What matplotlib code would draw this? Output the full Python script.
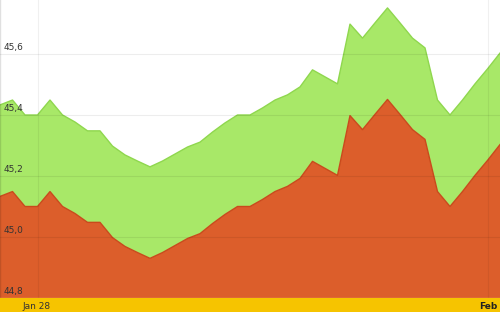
import numpy as np
import matplotlib
matplotlib.use("Agg")
import matplotlib.pyplot as plt

# upper (green) and lower (orange) band edges, one point per step
high = [45.433, 45.449, 45.400, 45.400, 45.449, 45.400, 45.377, 45.348, 45.348, 45.298,
        45.269, 45.249, 45.230, 45.249, 45.272, 45.295, 45.311, 45.344, 45.374, 45.400,
        45.400, 45.423, 45.449, 45.466, 45.492, 45.548, 45.525, 45.502, 45.698, 45.652,
        45.702, 45.751, 45.702, 45.652, 45.620, 45.449, 45.400, 45.449, 45.502, 45.551,
        45.603]
low = [45.133, 45.149, 45.100, 45.100, 45.149, 45.100, 45.077, 45.048, 45.048, 44.998,
       44.969, 44.949, 44.930, 44.949, 44.972, 44.995, 45.011, 45.044, 45.074, 45.100,
       45.100, 45.123, 45.149, 45.166, 45.192, 45.248, 45.225, 45.202, 45.398, 45.352,
       45.402, 45.451, 45.402, 45.352, 45.320, 45.149, 45.100, 45.149, 45.202, 45.251,
       45.303]
yticks = [44.8, 45.0, 45.2, 45.4, 45.6]
ytick_labels = ["44,8", "45,0", "45,2", "45,4", "45,6"]
xtick_pos = [3, 39]
xtick_labels = ["Jan 28", "Feb"]

x = np.arange(len(high))
ymin, ymax = 44.8, 45.777

fig = plt.figure(figsize=(5, 3.12), dpi=100, facecolor="#f6c400")
ax = fig.add_axes([0, 14 / 312, 1, 298 / 312])
ax.set_facecolor("white")

ax.fill_between(x, ymin, low, color="#dc5e2b", lw=0, zorder=1)
ax.fill_between(x, low, high, color="#a8e868", lw=0, zorder=1)
ax.plot(x, high, color="#8fd74e", lw=1, zorder=2)
ax.plot(x, low, color="#c94a1c", lw=1, zorder=2)

# faint grid drawn over the areas
for v in yticks[1:]:
    ax.axhline(v, color="black", alpha=0.07, lw=0.8, zorder=3)
for p in xtick_pos:
    ax.axvline(p, color="black", alpha=0.06, lw=0.8, zorder=3)
ax.axvline(0, color="black", alpha=0.12, lw=1, zorder=3)

for v, lab in zip(yticks, ytick_labels):
    ax.text(0.25, v + 0.008, lab, fontsize=6.5, color="#333333",
            ha="left", va="bottom", zorder=4)

ax.set_xlim(0, len(high) - 1)
ax.set_ylim(ymin, ymax)
ax.set_xticks([])
ax.set_yticks([])
for s in ax.spines.values():
    s.set_visible(False)
ax.axhline(ymin, color="#e8a060", lw=1, zorder=4)

fig.text(37 / 500, 5.5 / 312, xtick_labels[0], fontsize=6.5, color="#333333",
         ha="center", va="center")
fig.text(497 / 500, 5.5 / 312, xtick_labels[1], fontsize=6.5, color="#222222",
         ha="right", va="center", fontweight="bold")

fig.savefig("out.png", dpi=100, facecolor=fig.get_facecolor())
